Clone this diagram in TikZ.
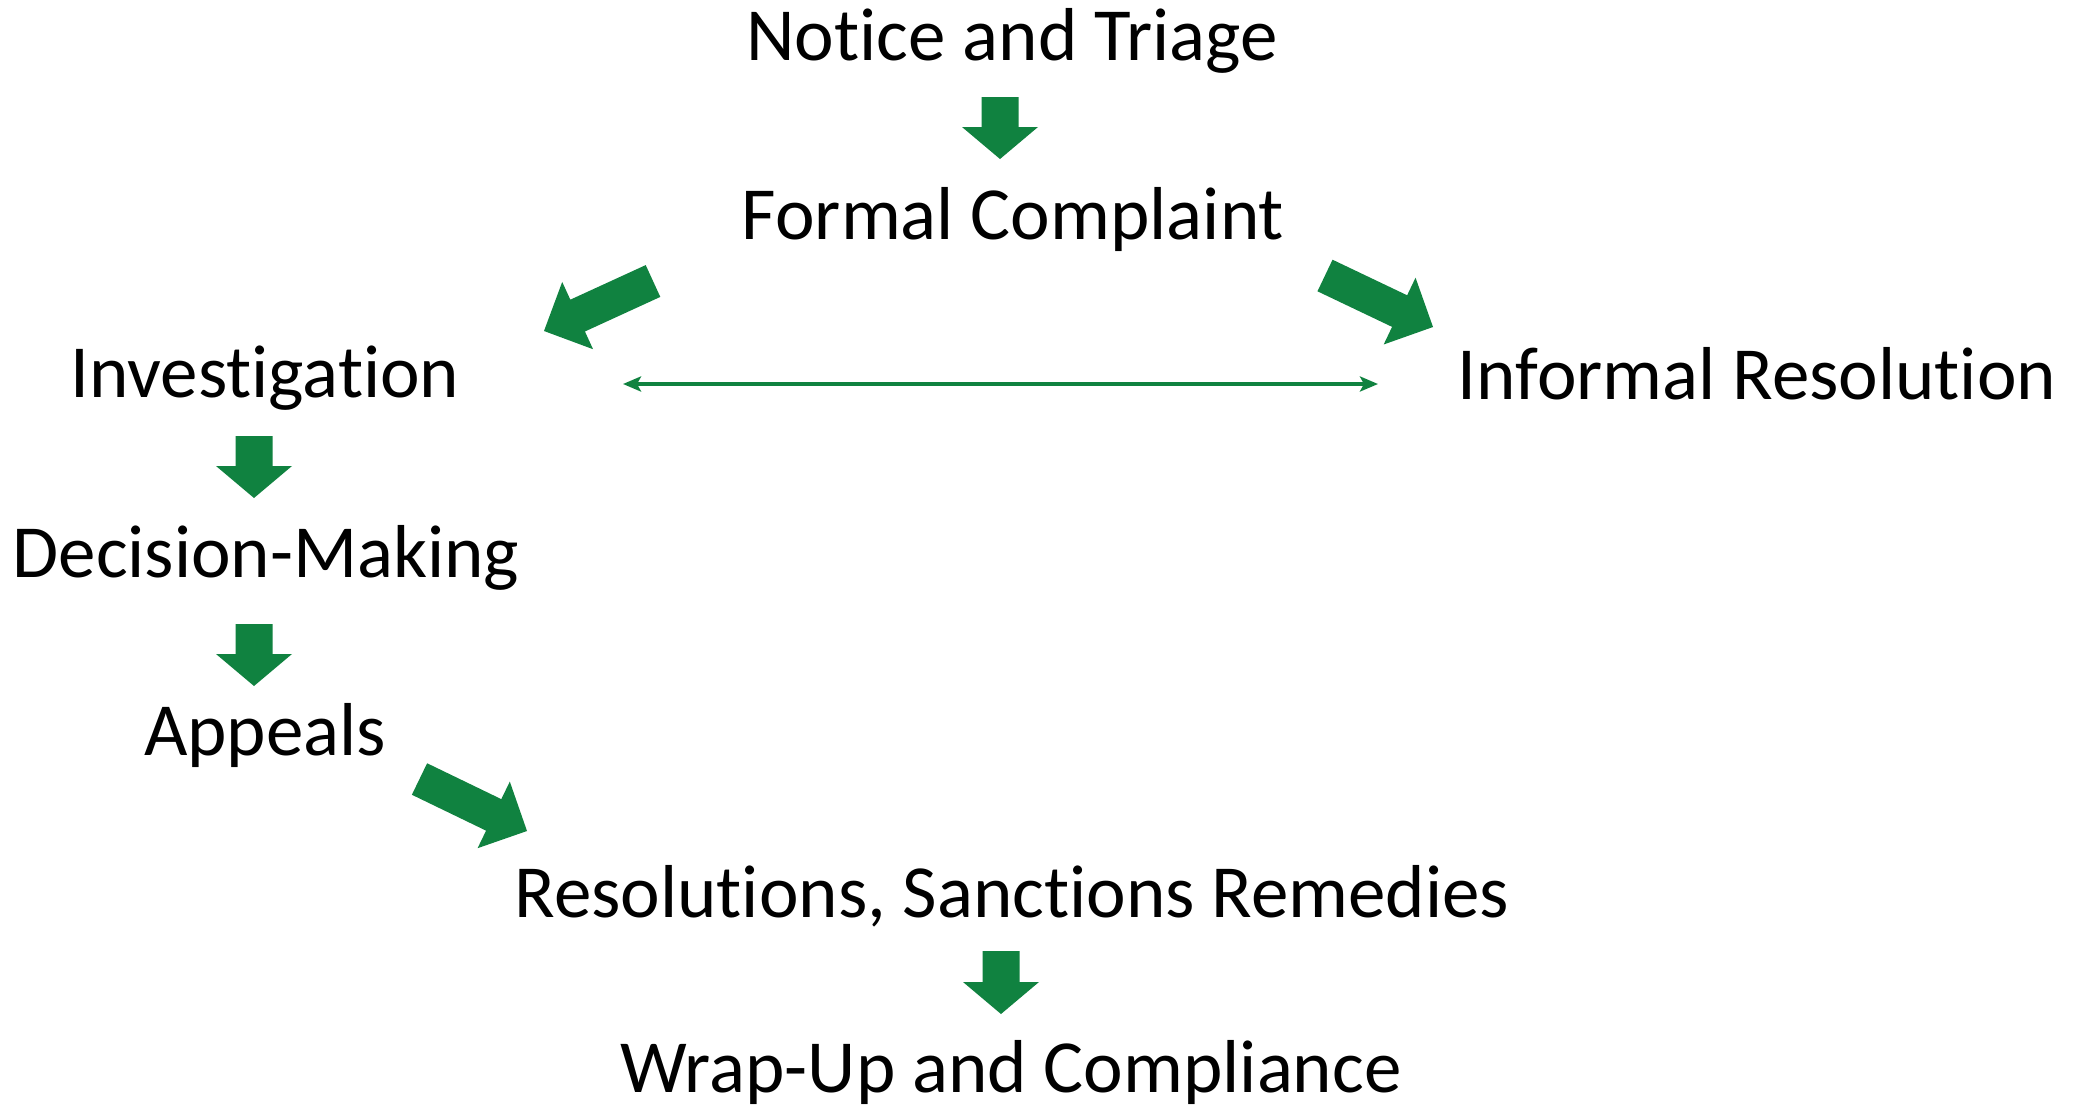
\documentclass[tikz,border=0pt]{standalone}
\usepackage{fontspec}
\setmainfont{Carlito}[Ligatures={NoCommon}]
\usetikzlibrary{calc,arrows.meta}
\definecolor{arrowgreen}{RGB}{16,130,64}
\tikzset{
  lbl/.style={anchor=base, inner sep=0pt, font=\fontsize{75}{82}\selectfont, text=black},
  thinarrow/.style={draw=arrowgreen, line width=4pt, {Stealth[length=18pt,width=15pt,inset=4pt]}-{Stealth[length=18pt,width=15pt,inset=4pt]}},
  bigfill/.style={fill=arrowgreen}
}
% #1 tail, #2 tip, #3 half shaft width, #4 half head width, #5 head length
\newcommand{\blockarr}[5]{%
  \coordinate (baj) at ($(#2)!#5!(#1)$);
  \fill[bigfill] ($(#1)!#3!90:(#2)$) -- ($(baj)!#3!90:(#2)$) -- ($(baj)!#4!90:(#2)$) -- (#2)
    -- ($(baj)!#4!-90:(#2)$) -- ($(baj)!#3!-90:(#2)$) -- ($(#1)!#3!-90:(#2)$) -- cycle;
}
\begin{document}
\begin{tikzpicture}[x=1pt,y=-1pt]
\useasboundingbox (0,0) rectangle (2077,1111);
\fill[white] (0,0) rectangle (2077,1111);

\node[lbl] (notice) at (1012,60) {Notice and Triage};
\node[lbl] (formal) at (1013,239) {Formal Complaint};
\node[lbl] (invest) at (265,397) {Investigation};
\node[lbl] (informal) at (1757,399) {Informal Resolution};
\node[lbl] (decision) at (266,577) {Decision-Making};
\node[lbl] (appeals) at (265,755) {Appeals};
\node[lbl] (resol) at (1012,917) {Resolutions, Sanctions Remedies};
\node[lbl] (wrap) at (1011,1092) {Wrap-Up and Compliance};

% vertical block arrows
\coordinate (a1t) at (1000,97);  \coordinate (a1h) at (1000,159);
\coordinate (a2t) at (254,436);  \coordinate (a2h) at (254,498);
\coordinate (a3t) at (254,624);  \coordinate (a3h) at (254,686);
\coordinate (a4t) at (1001,951); \coordinate (a4h) at (1001,1014);
\blockarr{a1t}{a1h}{18.5pt}{38pt}{32pt}
\blockarr{a2t}{a2h}{18.5pt}{38pt}{32pt}
\blockarr{a3t}{a3h}{18.5pt}{38pt}{32pt}
\blockarr{a4t}{a4h}{18.5pt}{38pt}{32pt}

% diagonal block arrows
\coordinate (d1t) at (653,281);    \coordinate (d1h) at (544,331);
\coordinate (d2t) at (1325,275.5); \coordinate (d2h) at (1433,327);
\coordinate (d3t) at (419.5,779);  \coordinate (d3h) at (527,831);
\blockarr{d1t}{d1h}{17.5pt}{37pt}{37pt}
\blockarr{d2t}{d2h}{17.5pt}{37pt}{37pt}
\blockarr{d3t}{d3h}{17.5pt}{37pt}{37pt}

% double-headed connector
\coordinate (hl) at (623,384);
\coordinate (hr) at (1378,384);
\draw[thinarrow] (hl) -- (hr);
\end{tikzpicture}
\end{document}
